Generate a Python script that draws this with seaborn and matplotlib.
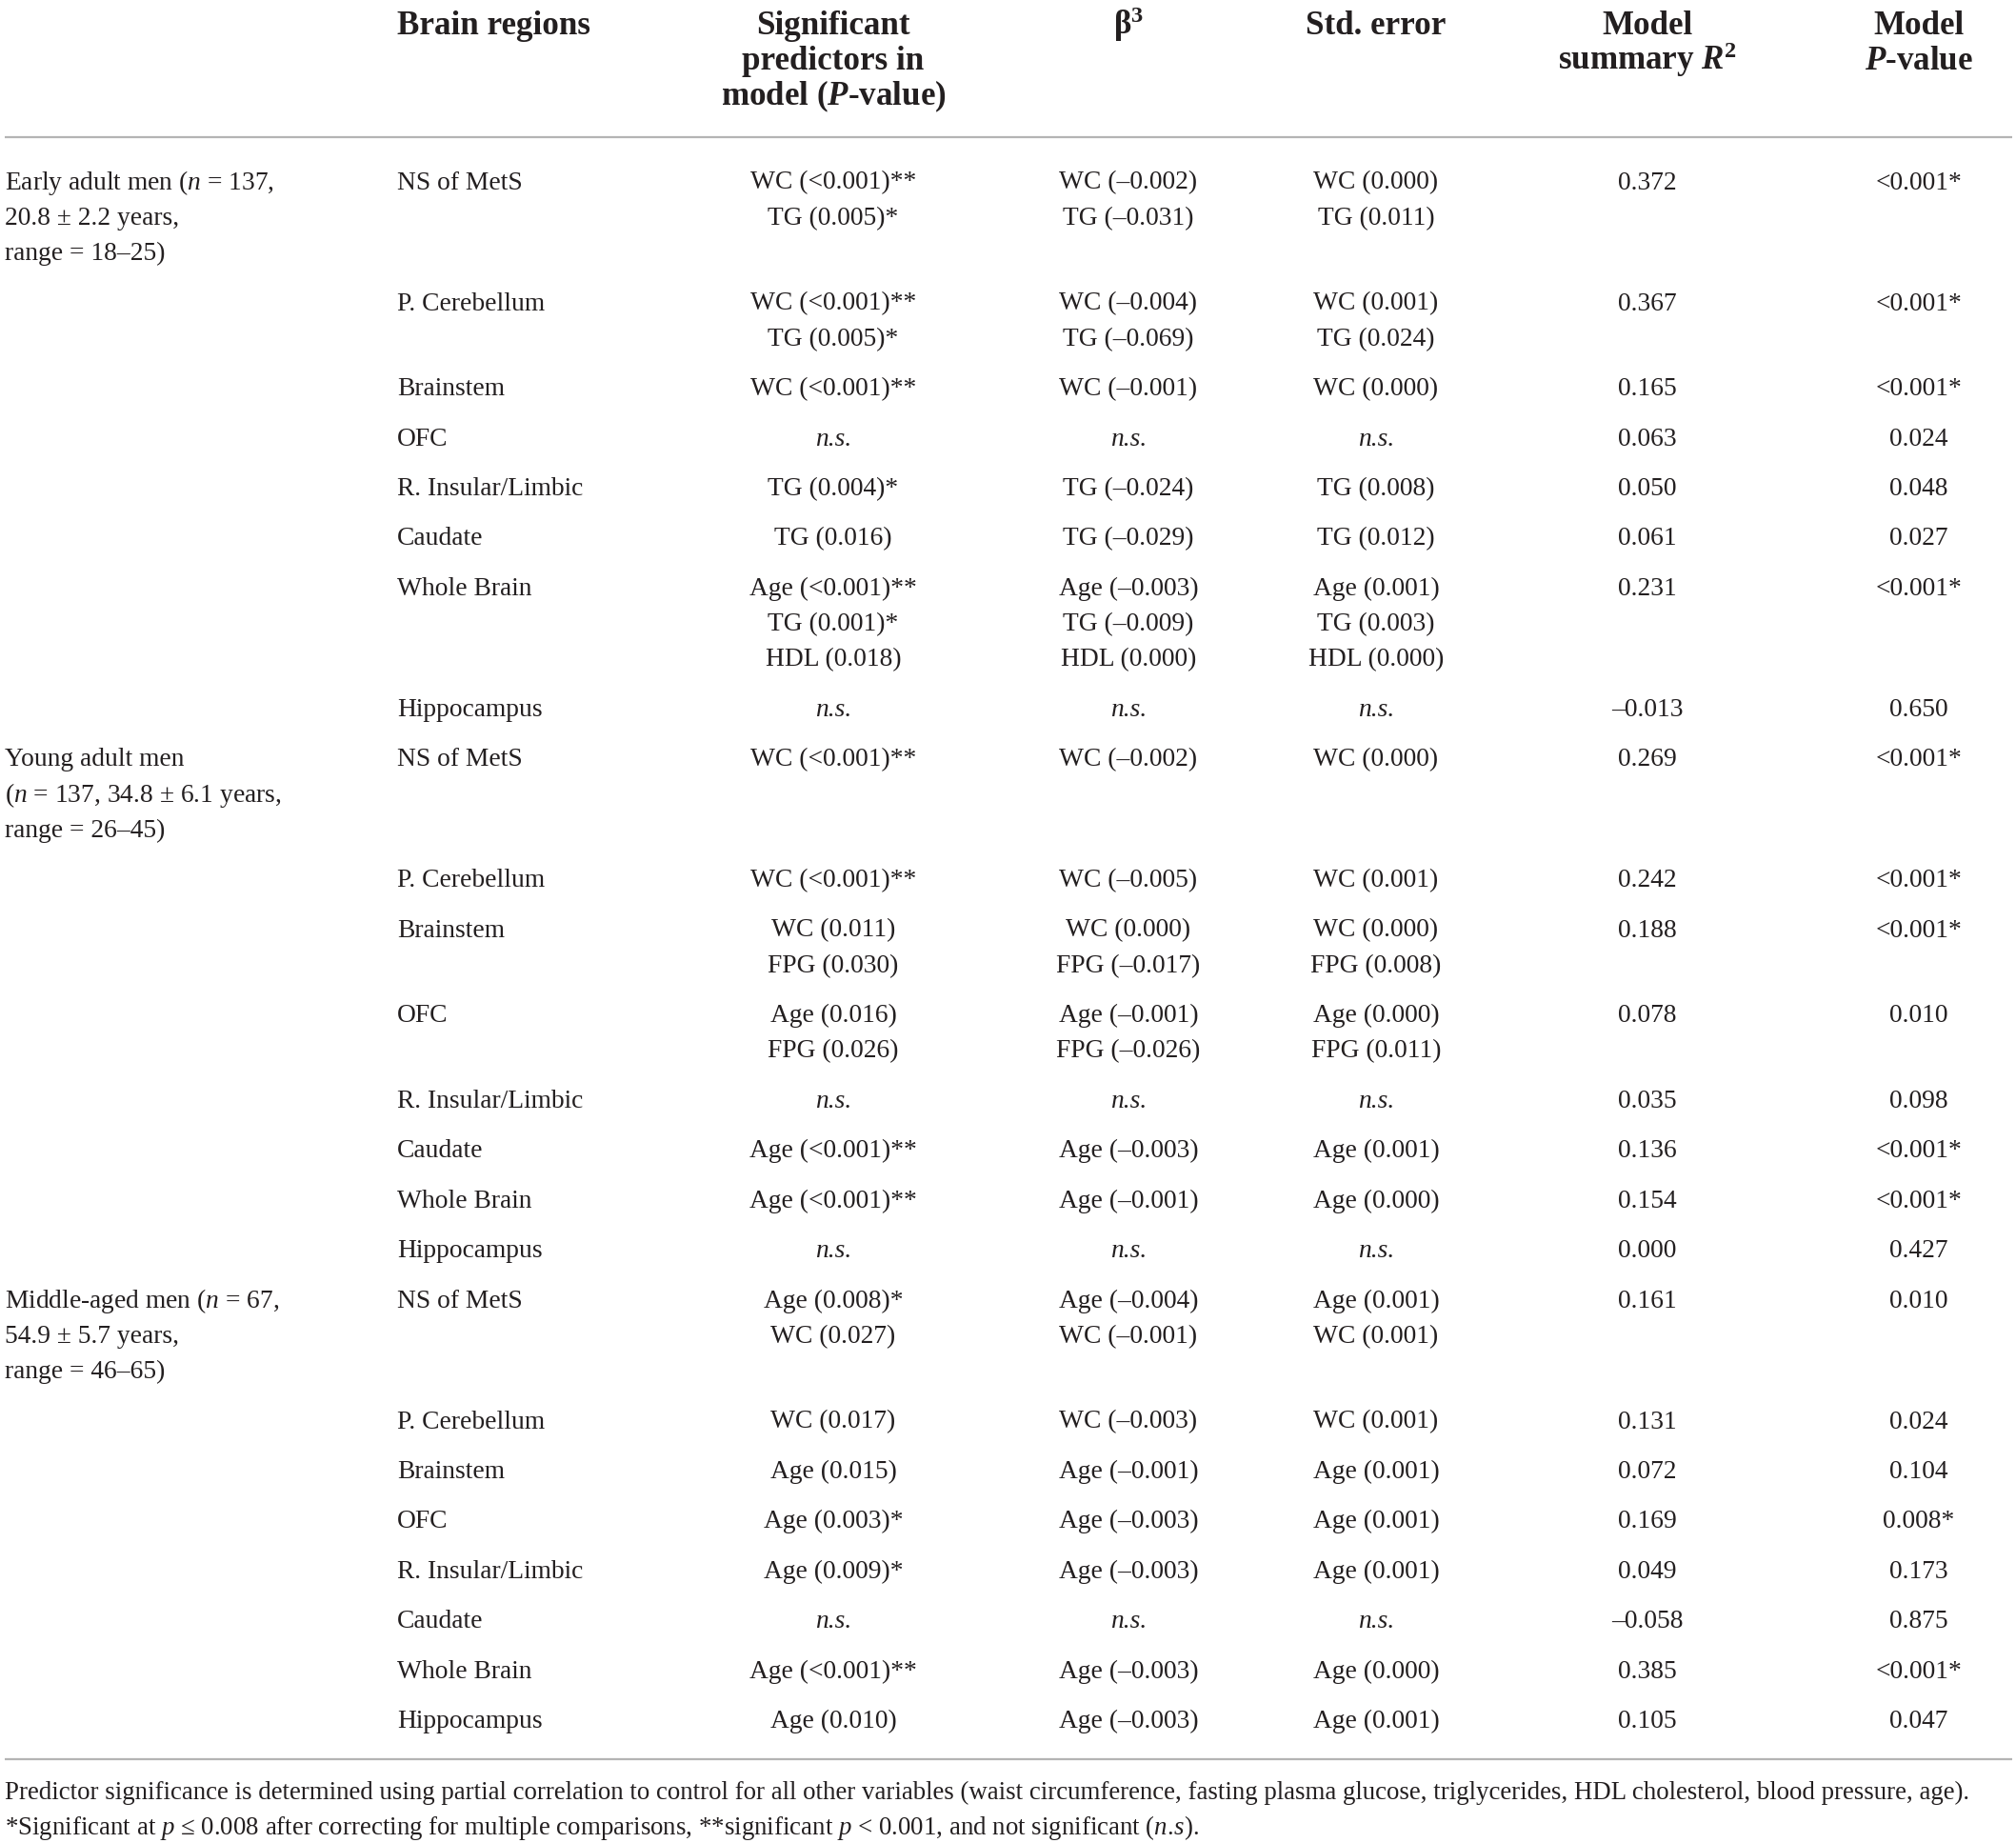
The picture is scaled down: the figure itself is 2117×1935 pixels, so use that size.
import matplotlib
matplotlib.use("Agg")
import matplotlib.pyplot as plt
import seaborn as sns

# ---------------- data ----------------
header_cols = [
    ["Brain regions"],
    ["Significant", "predictors in", "model ($\\mathbfit{P}$-value)"],
    ["β$^{\\mathbf{3}}$"],
    ["Std. error"],
    ["Model", "summary $\\mathbfit{R}^{\\mathbf{2}}$"],
    ["Model", "$\\mathbfit{P}$-value"],
]

group_labels = [
    ["Early adult men ($n$ = 137,", "20.8 ± 2.2 years,", "range = 18–25)"],
    ["Young adult men", "($n$ = 137, 34.8 ± 6.1 years,", "range = 26–45)"],
    ["Middle-aged men ($n$ = 67,", "54.9 ± 5.7 years,", "range = 46–65)"],
]

regions = ["NS of MetS", "P. Cerebellum", "Brainstem", "OFC",
           "R. Insular/Limbic", "Caudate", "Whole Brain", "Hippocampus"]

NS = "n.s."

predictors = [
    [["WC (<0.001)**", "TG (0.005)*"], ["WC (<0.001)**", "TG (0.005)*"],
     ["WC (<0.001)**"], [NS], ["TG (0.004)*"], ["TG (0.016)"],
     ["Age (<0.001)**", "TG (0.001)*", "HDL (0.018)"], [NS]],
    [["WC (<0.001)**"], ["WC (<0.001)**"], ["WC (0.011)", "FPG (0.030)"],
     ["Age (0.016)", "FPG (0.026)"], [NS], ["Age (<0.001)**"],
     ["Age (<0.001)**"], [NS]],
    [["Age (0.008)*", "WC (0.027)"], ["WC (0.017)"], ["Age (0.015)"],
     ["Age (0.003)*"], ["Age (0.009)*"], [NS], ["Age (<0.001)**"],
     ["Age (0.010)"]],
]

betas = [
    [["WC (–0.002)", "TG (–0.031)"], ["WC (–0.004)", "TG (–0.069)"],
     ["WC (–0.001)"], [NS], ["TG (–0.024)"], ["TG (–0.029)"],
     ["Age (–0.003)", "TG (–0.009)", "HDL (0.000)"], [NS]],
    [["WC (–0.002)"], ["WC (–0.005)"], ["WC (0.000)", "FPG (–0.017)"],
     ["Age (–0.001)", "FPG (–0.026)"], [NS], ["Age (–0.003)"],
     ["Age (–0.001)"], [NS]],
    [["Age (–0.004)", "WC (–0.001)"], ["WC (–0.003)"], ["Age (–0.001)"],
     ["Age (–0.003)"], ["Age (–0.003)"], [NS], ["Age (–0.003)"],
     ["Age (–0.003)"]],
]

std_errors = [
    [["WC (0.000)", "TG (0.011)"], ["WC (0.001)", "TG (0.024)"],
     ["WC (0.000)"], [NS], ["TG (0.008)"], ["TG (0.012)"],
     ["Age (0.001)", "TG (0.003)", "HDL (0.000)"], [NS]],
    [["WC (0.000)"], ["WC (0.001)"], ["WC (0.000)", "FPG (0.008)"],
     ["Age (0.000)", "FPG (0.011)"], [NS], ["Age (0.001)"],
     ["Age (0.000)"], [NS]],
    [["Age (0.001)", "WC (0.001)"], ["WC (0.001)"], ["Age (0.001)"],
     ["Age (0.001)"], ["Age (0.001)"], [NS], ["Age (0.000)"],
     ["Age (0.001)"]],
]

r2 = [
    [0.372, 0.367, 0.165, 0.063, 0.050, 0.061, 0.231, -0.013],
    [0.269, 0.242, 0.188, 0.078, 0.035, 0.136, 0.154, 0.000],
    [0.161, 0.131, 0.072, 0.169, 0.049, -0.058, 0.385, 0.105],
]

model_p = [
    ["<0.001*", "<0.001*", "<0.001*", "0.024", "0.048", "0.027", "<0.001*", "0.650"],
    ["<0.001*", "<0.001*", "<0.001*", "0.010", "0.098", "<0.001*", "<0.001*", "0.427"],
    ["0.010", "0.024", "0.104", "0.008*", "0.173", "0.875", "<0.001*", "0.047"],
]

footnotes = [
    "Predictor significance is determined using partial correlation to control for all other variables "
    "(waist circumference, fasting plasma glucose, triglycerides, HDL cholesterol, blood pressure, age).",
    "*Significant at $p$ ≤ 0.008 after correcting for multiple comparisons, **significant $p$ < 0.001, "
    "and not significant ($n.\\!s$).",
]

# ---------------- style ----------------
sns.set_theme(style="white")
plt.rcParams["font.family"] = ["Liberation Serif", "DejaVu Serif"]
plt.rcParams["mathtext.fontset"] = "custom"
plt.rcParams["mathtext.rm"] = "Liberation Serif"
plt.rcParams["mathtext.it"] = "Liberation Serif:italic"
plt.rcParams["mathtext.bf"] = "Liberation Serif:bold"
plt.rcParams["mathtext.bfit"] = "Liberation Serif:italic:bold"

TXT = "#231f20"
RULE = "#b4b4b4"
BODY_FS = 19.8
HEAD_FS = 25.2
FOOT_FS = 19.35

W, H = 2117, 1935
fig = plt.figure(figsize=(W / 100, H / 100), dpi=100)
ax = fig.add_axes([0, 0, 1, 1])
ax.set_xlim(0, W)
ax.set_ylim(H, 0)
ax.axis("off")

col_x = [417, 875, 1185, 1445, 1730, 2015]
col_ha = ["left", "center", "center", "center", "center", "center"]
group_x = 5
LINE = 37.3
GAP = 15.1

# header
head_base = 36
for x, ha, lines in zip(col_x, col_ha, header_cols):
    for k, s in enumerate(lines):
        ax.text(x, head_base + k * LINE, s, ha=ha, va="baseline",
                fontsize=HEAD_FS, fontweight="bold", color=TXT)

# rules
ax.hlines([143.5, 1846.5], 5, 2113, color=RULE, lw=1.6)

# body
y = 198.5
for g in range(len(group_labels)):
    for r, region in enumerate(regions):
        cells = [[region], predictors[g][r], betas[g][r], std_errors[g][r],
                 [f"{r2[g][r]:.3f}".replace("-", "–")], [model_p[g][r]]]
        nlines = max(len(c) for c in cells)
        if r == 0:
            for k, s in enumerate(group_labels[g]):
                ax.text(group_x, y + k * LINE, s, ha="left", va="baseline",
                        fontsize=BODY_FS, color=TXT)
            nlines = max(nlines, len(group_labels[g]))
        for x, ha, cell in zip(col_x, col_ha, cells):
            for k, s in enumerate(cell):
                ax.text(x, y + k * LINE, s, ha=ha, va="baseline",
                        fontsize=BODY_FS, color=TXT,
                        fontstyle="italic" if s == NS else "normal")
        y += nlines * LINE + GAP

# footnotes
for k, s in enumerate(footnotes):
    ax.text(5, 1889 + k * 37.3, s, ha="left", va="baseline",
            fontsize=FOOT_FS, color=TXT)

fig.savefig("out.png", dpi=100, facecolor="white")
